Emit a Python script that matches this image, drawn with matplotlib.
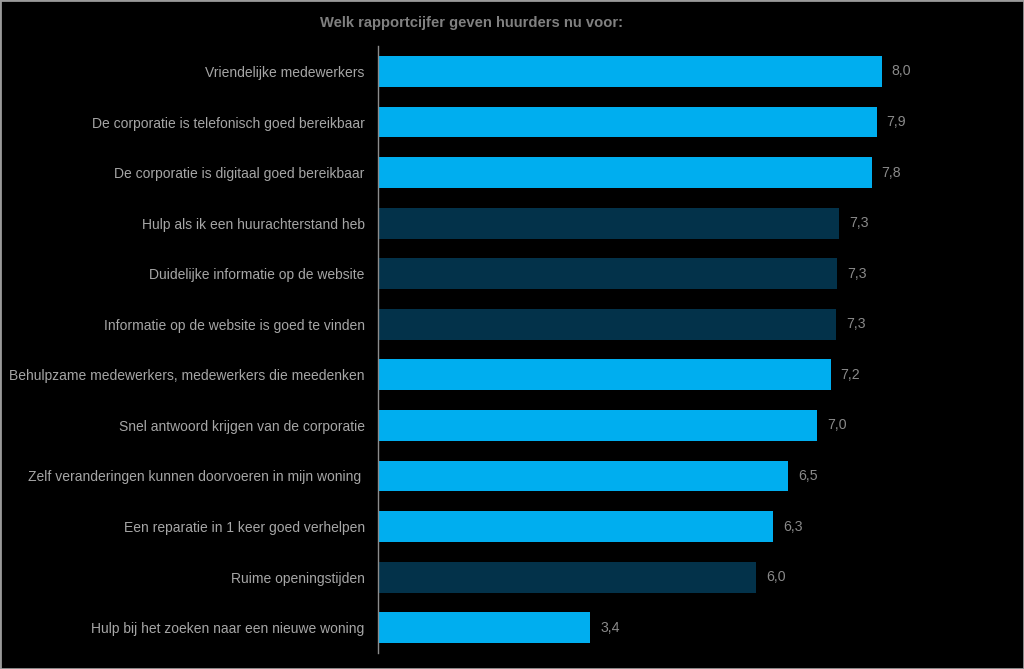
import matplotlib.pyplot as plt
from matplotlib.patches import Rectangle

plt.rcParams['font.family'] = ['Liberation Sans', 'DejaVu Sans']

# Data (top to bottom as shown)
labels = [
    "Vriendelijke medewerkers",
    "De corporatie is telefonisch goed bereikbaar",
    "De corporatie is digitaal goed bereikbaar",
    "Hulp als ik een huurachterstand heb",
    "Duidelijke informatie op de website",
    "Informatie op de website is goed te vinden",
    "Behulpzame medewerkers, medewerkers die meedenken",
    "Snel antwoord krijgen van de corporatie",
    "Zelf veranderingen kunnen doorvoeren in mijn woning ",
    "Een reparatie in 1 keer goed verhelpen",
    "Ruime openingstijden",
    "Hulp bij het zoeken naar een nieuwe woning",
]
scores = [8.0, 7.92, 7.84, 7.32, 7.29, 7.27, 7.19, 6.98, 6.52, 6.27, 6.0, 3.37]
score_labels = ["8,0", "7,9", "7,8", "7,3", "7,3", "7,3", "7,2", "7,0", "6,5", "6,3", "6,0", "3,4"]
dark_rows = [False, False, False, True, True, True, False, False, False, False, True, False]

light_blue = "#00AEEF"
dark_blue = "#03324A"

fig = plt.figure(figsize=(10.24, 6.69), dpi=100, facecolor="black")
ax = fig.add_axes([0.369, 0.024, 0.615, 0.907], facecolor="black")

colors = [dark_blue if d else light_blue for d in dark_rows]
ypos = list(range(len(labels)))
ax.barh(ypos, scores, height=0.61, color=colors)

for y, v, s in zip(ypos, scores, score_labels):
    ax.text(v + 0.16, y, s, color="#8a8a8a", fontsize=10.2, va="center", ha="left")

ax.set_xlim(0, 10)
ax.set_ylim(len(labels) - 0.5, -0.5)
ax.set_yticks(ypos)
ax.set_yticklabels(labels, color="#a6a6a6", fontsize=10)
ax.tick_params(axis="y", length=0, pad=9.5)
ax.set_xticks([])
for side in ["top", "right", "bottom"]:
    ax.spines[side].set_visible(False)
ax.spines["left"].set_color("#8c8c8c")
ax.spines["left"].set_linewidth(1)

fig.text(0.46, 0.966, "Welk rapportcijfer geven huurders nu voor:", color="#808080",
         fontsize=10.6, fontweight="bold", ha="center", va="center")

# thin gray frame around the picture
fig.patches.append(Rectangle((0, 0), 1, 1, transform=fig.transFigure, fill=False,
                             edgecolor="#9a9a9a", linewidth=2))

fig.savefig("out.png", dpi=100, facecolor="black")
